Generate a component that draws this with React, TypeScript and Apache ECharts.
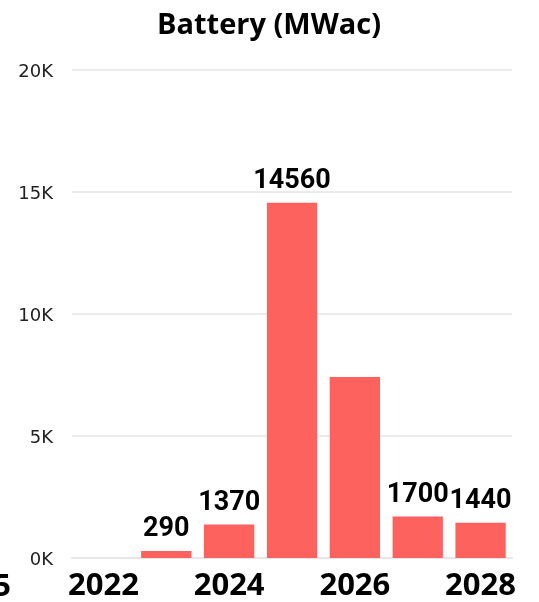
import React, { useEffect, useRef } from "react";
import * as echarts from "echarts";

const categories = ["2022", "2023", "2024", "2025", "2026", "2027", "2028"];
const values = [0, 290, 1370, 14560, 7420, 1700, 1440];
const labeled = [false, true, true, true, false, true, true];
const yTicks = [0, 5000, 10000, 15000, 20000];

export default function App() {
  const ref = useRef<HTMLDivElement>(null);
  useEffect(() => {
    const chart = echarts.init(ref.current!, null, { renderer: "svg" });
    chart.setOption({
      animation: false,
      title: {
        text: "Battery (MWac)",
        left: 264,
        textAlign: "center",
        top: 3,
        textStyle: { fontFamily: "Open Sans", fontWeight: "bold", fontSize: 29, color: "#000" },
      },
      grid: { left: 72, right: 27, top: 70, bottom: 44 },
      xAxis: {
        type: "category",
        data: categories,
        axisLine: { lineStyle: { color: "#e6e6e6", width: 2 } },
        axisTick: { show: false },
        axisLabel: {
          interval: 1,
          fontFamily: "Open Sans",
          fontWeight: "bold",
          fontSize: 31,
          color: "#000",
          margin: 9,
        },
      },
      yAxis: {
        type: "value",
        min: 0,
        max: yTicks[yTicks.length - 1],
        interval: 5000,
        axisLabel: {
          formatter: (v: number) => v / 1000 + "K",
          fontFamily: "DejaVu Sans",
          fontSize: 18,
          color: "#222",
          margin: 19,
        },
        splitLine: { lineStyle: { color: "#ebebeb", width: 2 } },
      },
      graphic: [
        {
          type: "text",
          left: -60,
          top: 568,
          style: { text: "2025", font: "bold 31px 'Open Sans'", fill: "#000" },
        },
      ],
      series: [
        {
          type: "bar",
          data: values.map((v, i) => ({
            value: v,
            label: { show: labeled[i] },
          })),
          barCategoryGap: "20%",
          itemStyle: { color: "#FD625E" },
          label: {
            position: "top",
            distance: 10,
            fontFamily: "Roboto",
            fontWeight: "bold",
            fontSize: 27,
            color: "#000",
          },
        },
      ],
    });
    return () => chart.dispose();
  }, []);
  return <div ref={ref} style={{ position: "fixed", left: 0, top: 0, width: 539, height: 602 }} />;
}
